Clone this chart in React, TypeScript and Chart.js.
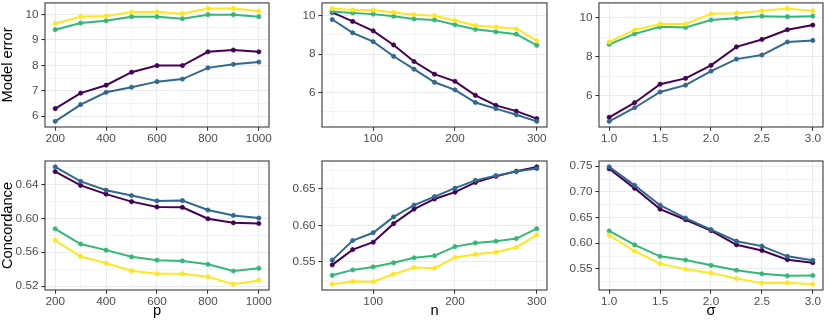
import React, { useEffect, useRef } from 'react';
import { Chart, registerables } from 'chart.js';

Chart.register(...registerables);

// ---- x values ----
const pValues = [200, 300, 400, 500, 600, 700, 800, 900, 1000];
const nValues = [50, 75, 100, 125, 150, 175, 200, 225, 250, 275, 300];
const sigmaValues = [1.0, 1.25, 1.5, 1.75, 2.0, 2.25, 2.5, 2.75, 3.0];

const seriesColors = ['#440154', '#31688E', '#35B779', '#FDE725'];

// ---- Model error vs p ----
const errP_purple = [6.30, 6.91, 7.22, 7.73, 7.99, 7.99, 8.53, 8.60, 8.53];
const errP_blue = [5.80, 6.46, 6.94, 7.14, 7.36, 7.46, 7.90, 8.04, 8.13];
const errP_green = [9.40, 9.66, 9.75, 9.91, 9.91, 9.83, 9.99, 9.99, 9.91];
const errP_yellow = [9.64, 9.91, 9.94, 10.09, 10.10, 10.03, 10.23, 10.23, 10.13];

// ---- Model error vs n ----
const errN_purple = [10.17, 9.70, 9.21, 8.48, 7.62, 6.96, 6.59, 5.86, 5.34, 5.04, 4.65];
const errN_blue = [9.80, 9.11, 8.65, 7.89, 7.22, 6.54, 6.15, 5.49, 5.17, 4.85, 4.51];
const errN_green = [10.22, 10.14, 10.08, 9.97, 9.83, 9.78, 9.53, 9.29, 9.16, 9.04, 8.46];
const errN_yellow = [10.37, 10.30, 10.29, 10.17, 10.05, 10.00, 9.75, 9.49, 9.41, 9.32, 8.70];

// ---- Model error vs sigma ----
const errS_purple = [4.88, 5.63, 6.58, 6.88, 7.55, 8.50, 8.88, 9.38, 9.62];
const errS_blue = [4.67, 5.37, 6.18, 6.53, 7.25, 7.87, 8.08, 8.75, 8.83];
const errS_green = [8.63, 9.17, 9.53, 9.50, 9.88, 9.97, 10.08, 10.05, 10.08];
const errS_yellow = [8.75, 9.37, 9.67, 9.67, 10.20, 10.23, 10.35, 10.47, 10.35];

// ---- Concordance vs p ----
const conP_purple = [0.6551, 0.6388, 0.6285, 0.6197, 0.6134, 0.6130, 0.5995, 0.5947, 0.5939];
const conP_blue = [0.6607, 0.6436, 0.6332, 0.6269, 0.6205, 0.6209, 0.6098, 0.6034, 0.6003];
const conP_green = [0.5876, 0.5697, 0.5625, 0.5546, 0.5506, 0.5498, 0.5458, 0.5379, 0.5411];
const conP_yellow = [0.5741, 0.5550, 0.5471, 0.5383, 0.5347, 0.5347, 0.5312, 0.5224, 0.5268];

// ---- Concordance vs n ----
const conN_purple = [0.5458, 0.5667, 0.5768, 0.6023, 0.6222, 0.6361, 0.6454, 0.6588, 0.6671, 0.6741, 0.6801];
const conN_blue = [0.5523, 0.5792, 0.5898, 0.6116, 0.6278, 0.6394, 0.6509, 0.6616, 0.6681, 0.6736, 0.6778];
const conN_green = [0.5315, 0.5389, 0.5430, 0.5486, 0.5555, 0.5583, 0.5708, 0.5759, 0.5782, 0.5819, 0.5954];
const conN_yellow = [0.5194, 0.5231, 0.5227, 0.5329, 0.5421, 0.5412, 0.5560, 0.5602, 0.5630, 0.5699, 0.5870];

// ---- Concordance vs sigma ----
const conS_purple = [0.7449, 0.7069, 0.6664, 0.6458, 0.6246, 0.5970, 0.5860, 0.5680, 0.5622];
const conS_blue = [0.7487, 0.7127, 0.6741, 0.6490, 0.6265, 0.6040, 0.5944, 0.5745, 0.5667];
const conS_green = [0.6240, 0.5970, 0.5745, 0.5674, 0.5571, 0.5475, 0.5404, 0.5365, 0.5372];
const conS_yellow = [0.6156, 0.5847, 0.5603, 0.5494, 0.5423, 0.5314, 0.5224, 0.5230, 0.5204];

// ---- tick breaks and labels ----
const pMajor = [200, 400, 600, 800, 1000];
const pLabels = ['200', '400', '600', '800', '1000'];
const pMinor = [300, 500, 700, 900];
const nMajor = [100, 200, 300];
const nLabels = ['100', '200', '300'];
const nMinor = [50, 150, 250];
const sMajor = [1.0, 1.5, 2.0, 2.5, 3.0];
const sLabels = ['1.0', '1.5', '2.0', '2.5', '3.0'];
const sMinor = [1.25, 1.75, 2.25, 2.75];

const errPMajor = [6, 7, 8, 9, 10];
const errPLabels = ['6', '7', '8', '9', '10'];
const errPMinor = [5.5, 6.5, 7.5, 8.5, 9.5, 10.5];
const errNMajor = [6, 8, 10];
const errNLabels = ['6', '8', '10'];
const errNMinor = [5, 7, 9];
const errSMajor = [6, 8, 10];
const errSLabels = ['6', '8', '10'];
const errSMinor = [5, 7, 9];
const conPMajor = [0.52, 0.56, 0.60, 0.64];
const conPLabels = ['0.52', '0.56', '0.60', '0.64'];
const conPMinor = [0.54, 0.58, 0.62, 0.66];
const conNMajor = [0.55, 0.60, 0.65];
const conNLabels = ['0.55', '0.60', '0.65'];
const conNMinor = [0.525, 0.575, 0.625, 0.675];
const conSMajor = [0.55, 0.60, 0.65, 0.70, 0.75];
const conSLabels = ['0.55', '0.60', '0.65', '0.70', '0.75'];
const conSMinor = [0.525, 0.575, 0.625, 0.675, 0.725];

const FONT = '"Liberation Sans", Arial, Helvetica, sans-serif';

type Axis = { major: number[]; labels: string[]; minor: number[] };

type PanelProps = {
  canvasLeft: number;
  canvasTop: number;
  canvasWidth: number;
  canvasHeight: number;
  areaLeft: number;
  areaTop: number;
  areaRight: number;
  areaBottom: number;
  xs: number[];
  series: number[][];
  xAxis: Axis;
  yAxis: Axis;
  xTitle?: string;
  yTitle?: string;
};

const expand = (vals: number[]) => {
  const lo = Math.min(...vals);
  const hi = Math.max(...vals);
  const d = (hi - lo) * 0.05;
  return [lo - d, hi + d];
};

const near = (a: number, b: number) => Math.abs(a - b) < 1e-9;

const borderPlugin = {
  id: 'panelBorder',
  afterDraw(chart: any) {
    const { ctx, chartArea: a } = chart;
    ctx.save();
    ctx.strokeStyle = '#333333';
    ctx.lineWidth = 1.07;
    ctx.strokeRect(a.left, a.top, a.right - a.left, a.bottom - a.top);
    ctx.restore();
  },
};

function axisOptions(
  ax: Axis,
  min: number,
  max: number,
  horizontal: boolean,
  size: number,
  title?: string
) {
  const isMajor = (v: number) => ax.major.some((m) => near(m, v));
  const all = [...ax.major, ...ax.minor]
    .filter((v) => v >= min && v <= max)
    .sort((a, b) => a - b);
  return {
    type: 'linear',
    min,
    max,
    bounds: 'data',
    afterBuildTicks: (scale: any) => {
      scale.ticks = all.map((v) => ({ value: v }));
    },
    afterFit: (scale: any) => {
      if (horizontal) scale.height = size;
      else scale.width = size;
      scale.paddingTop = 0;
      scale.paddingBottom = 0;
      scale.paddingLeft = 0;
      scale.paddingRight = 0;
    },
    ticks: {
      autoSkip: false,
      maxRotation: 0,
      minRotation: 0,
      color: '#4D4D4D',
      padding: horizontal ? 1.5 : 2.9,
      font: { family: FONT, size: 11.73 },
      callback: (v: number) => {
        const i = ax.major.findIndex((m) => near(m, v));
        return i >= 0 ? ax.labels[i] : '';
      },
    },
    grid: {
      color: '#EBEBEB',
      lineWidth: (ctx: any) => (ctx.tick && isMajor(ctx.tick.value) ? 1.07 : 0.53),
      tickColor: (ctx: any) =>
        ctx.tick && isMajor(ctx.tick.value) ? '#333333' : 'rgba(0,0,0,0)',
      tickLength: 3.67,
      tickWidth: 1.07,
      drawTicks: true,
    },
    border: { display: false },
    title: {
      display: !!title,
      text: title || '',
      color: '#000000',
      font: { family: FONT, size: 14.67, lineHeight: 1 },
      padding: horizontal ? { top: 0, bottom: 4.7 } : { top: 0.3, bottom: 0 },
    },
  };
}

function Panel(props: PanelProps) {
  const ref = useRef<HTMLCanvasElement>(null);
  useEffect(() => {
    const canvas = ref.current;
    if (!canvas) return;
    const [xMin, xMax] = expand(props.xs);
    const [yMin, yMax] = expand(props.series.flat());
    const yAxisW = props.areaLeft - props.canvasLeft;
    const xAxisH = props.canvasTop + props.canvasHeight - props.areaBottom;
    const chart = new Chart(canvas, {
      type: 'line',
      data: {
        datasets: props.series.map((s, i) => ({
          data: props.xs.map((x, j) => ({ x, y: s[j] })),
          borderColor: seriesColors[i],
          backgroundColor: seriesColors[i],
          pointBackgroundColor: seriesColors[i],
          pointBorderColor: seriesColors[i],
          borderWidth: 2,
          pointRadius: 2.1,
          pointBorderWidth: 0.8,
          pointHoverRadius: 0,
          tension: 0,
          order: props.series.length - 1 - i,
        })),
      },
      options: {
        animation: false,
        responsive: false,
        maintainAspectRatio: false,
        events: [],
        layout: {
          padding: {
            left: 0,
            top: props.areaTop - props.canvasTop,
            right: props.canvasLeft + props.canvasWidth - props.areaRight,
            bottom: 0,
          },
        },
        plugins: {
          legend: { display: false },
          tooltip: { enabled: false },
        },
        scales: {
          x: axisOptions(props.xAxis, xMin, xMax, true, xAxisH, props.xTitle),
          y: axisOptions(props.yAxis, yMin, yMax, false, yAxisW, props.yTitle),
        },
      } as any,
      plugins: [borderPlugin],
    } as any);
    return () => chart.destroy();
  }, []);
  return (
    <canvas
      ref={ref}
      width={props.canvasWidth}
      height={props.canvasHeight}
      style={{
        position: 'absolute',
        left: props.canvasLeft,
        top: props.canvasTop,
        width: props.canvasWidth,
        height: props.canvasHeight,
      }}
    />
  );
}

const pAxis: Axis = { major: pMajor, labels: pLabels, minor: pMinor };
const nAxis: Axis = { major: nMajor, labels: nLabels, minor: nMinor };
const sAxis: Axis = { major: sMajor, labels: sLabels, minor: sMinor };

export default function App() {
  const cols = [
    { canvasLeft: 0, canvasWidth: 273, areaLeft: 45, areaRight: 269 },
    { canvasLeft: 273, canvasWidth: 277, areaLeft: 322, areaRight: 547 },
    { canvasLeft: 550, canvasWidth: 280, areaLeft: 599, areaRight: 823 },
  ];
  const rows = [
    { canvasTop: 0, canvasHeight: 150, areaTop: 0, areaBottom: 127 },
    { canvasTop: 150, canvasHeight: 173, areaTop: 161, areaBottom: 290 },
  ];
  const panels = [
    { r: 0, c: 0, xs: pValues, xAxis: pAxis, series: [errP_purple, errP_blue, errP_green, errP_yellow], yAxis: { major: errPMajor, labels: errPLabels, minor: errPMinor }, yTitle: 'Model error' },
    { r: 0, c: 1, xs: nValues, xAxis: nAxis, series: [errN_purple, errN_blue, errN_green, errN_yellow], yAxis: { major: errNMajor, labels: errNLabels, minor: errNMinor } },
    { r: 0, c: 2, xs: sigmaValues, xAxis: sAxis, series: [errS_purple, errS_blue, errS_green, errS_yellow], yAxis: { major: errSMajor, labels: errSLabels, minor: errSMinor } },
    { r: 1, c: 0, xs: pValues, xAxis: pAxis, series: [conP_purple, conP_blue, conP_green, conP_yellow], yAxis: { major: conPMajor, labels: conPLabels, minor: conPMinor }, yTitle: 'Concordance', xTitle: 'p' },
    { r: 1, c: 1, xs: nValues, xAxis: nAxis, series: [conN_purple, conN_blue, conN_green, conN_yellow], yAxis: { major: conNMajor, labels: conNLabels, minor: conNMinor }, xTitle: 'n' },
    { r: 1, c: 2, xs: sigmaValues, xAxis: sAxis, series: [conS_purple, conS_blue, conS_green, conS_yellow], yAxis: { major: conSMajor, labels: conSLabels, minor: conSMinor }, xTitle: 'σ' },
  ];
  return (
    <div style={{ position: 'absolute', left: 0, top: 0, width: 830, height: 323, background: '#ffffff' }}>
      {panels.map((p, i) => (
        <Panel
          key={i}
          {...cols[p.c]}
          {...rows[p.r]}
          xs={p.xs}
          series={p.series}
          xAxis={p.xAxis}
          yAxis={p.yAxis}
          xTitle={p.xTitle}
          yTitle={p.yTitle}
        />
      ))}
    </div>
  );
}
